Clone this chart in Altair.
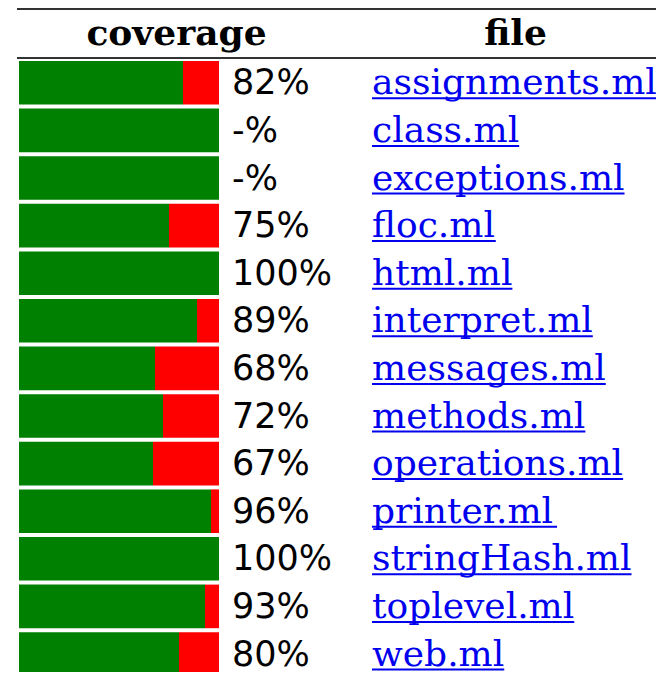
import os
import glob
import struct
import subprocess

import altair as alt
import pandas as pd

# ---------------- data ----------------
files = [
    "assignments.ml", "class.ml", "exceptions.ml", "floc.ml", "html.ml",
    "interpret.ml", "messages.ml", "methods.ml", "operations.ml",
    "printer.ml", "stringHash.ml", "toplevel.ml", "web.ml",
]
coverage = [82, None, None, 75, 100, 89, 68, 72, 67, 96, 100, 93, 80]
headers = ["coverage", "file"]

# ---------------- layout constants (plot pixels) ----------------
SERIF_SIZE = 36
SANS_SIZE = 35
NAME_X = 364
PCT_X = 224
W = 648
H = 664
STEP = 47.6
BAR_TOP = 53


def find_font(family, fname):
    try:
        p = subprocess.run(["fc-match", "-f", "%{file}", family],
                           capture_output=True, text=True, timeout=5).stdout.strip()
        if p.endswith(fname) and os.path.exists(p):
            return p
    except Exception:
        pass
    for pat in ["/usr/share/fonts/**/" + fname, "/usr/local/share/fonts/**/" + fname]:
        hits = glob.glob(pat, recursive=True)
        if hits:
            return hits[0]
    return None


def text_width_fn(path):
    """Return a function measuring string advance width (em) using the TTF hmtx/cmap."""
    try:
        data = open(path, "rb").read()
        ntab = struct.unpack(">H", data[4:6])[0]
        tabs = {}
        for i in range(ntab):
            tag, _, off, _ = struct.unpack(">4sIII", data[12 + 16 * i:28 + 16 * i])
            tabs[tag.decode("latin1")] = off
        upem = struct.unpack(">H", data[tabs["head"] + 18:tabs["head"] + 20])[0]
        nhm = struct.unpack(">H", data[tabs["hhea"] + 34:tabs["hhea"] + 36])[0]
        hmtx = tabs["hmtx"]
        cm = tabs["cmap"]
        nsub = struct.unpack(">H", data[cm + 2:cm + 4])[0]
        sub = None
        for i in range(nsub):
            pid, eid, off = struct.unpack(">HHI", data[cm + 4 + 8 * i:cm + 12 + 8 * i])
            fmt = struct.unpack(">H", data[cm + off:cm + off + 2])[0]
            if fmt == 4 and pid in (0, 3):
                sub = cm + off
                break
        segx2 = struct.unpack(">H", data[sub + 6:sub + 8])[0]
        seg = segx2 // 2
        ends = struct.unpack(">%dH" % seg, data[sub + 14:sub + 14 + segx2])
        so = sub + 16 + segx2
        starts = struct.unpack(">%dH" % seg, data[so:so + segx2])
        do = so + segx2
        deltas = struct.unpack(">%dh" % seg, data[do:do + segx2])
        ro = do + segx2
        ranges = struct.unpack(">%dH" % seg, data[ro:ro + segx2])

        def gid(c):
            for i in range(seg):
                if ends[i] >= c:
                    if starts[i] > c:
                        return 0
                    if ranges[i] == 0:
                        return (c + deltas[i]) & 0xFFFF
                    addr = ro + 2 * i + ranges[i] + 2 * (c - starts[i])
                    g = struct.unpack(">H", data[addr:addr + 2])[0]
                    return (g + deltas[i]) & 0xFFFF if g else 0
            return 0

        def adv(g):
            g = min(g, nhm - 1)
            return struct.unpack(">H", data[hmtx + 4 * g:hmtx + 4 * g + 2])[0]

        return lambda s: sum(adv(gid(ord(ch))) for ch in s) / upem
    except Exception:
        return lambda s: 0.6 * len(s)


serif_path = find_font("DejaVu Serif", "DejaVuSerif.ttf")
measure = text_width_fn(serif_path) if serif_path else (lambda s: 0.6 * len(s))

labels = [f"{c}%" if c is not None else "-%" for c in coverage]
covered = [c if c is not None else 100 for c in coverage]

df = pd.DataFrame({
    "file": files,
    "covered": covered,
    "full": [100] * len(files),
    "label": labels,
    "ul0": [NAME_X] * len(files),
    "ul1": [min(W, NAME_X + measure(f) * SERIF_SIZE) for f in files],
})
df_red = df[[c is not None and c < 100 for c in coverage]]

n = len(files)
ysc = alt.Scale(
    range=[BAR_TOP - 2, BAR_TOP - 2 + n * STEP],
    paddingInner=4 / STEP, paddingOuter=2 / STEP,
)
Y = alt.Y("file:N", sort=files, scale=ysc, axis=None)
xsc = alt.Scale(domain=[0, 100], range=[11, 211])

green = alt.Chart(df).mark_bar(color="#008000").encode(
    x=alt.X("covered:Q", scale=xsc, axis=None), y=Y
)
red = alt.Chart(df_red).mark_bar(color="#ff0000").encode(
    x=alt.X("covered:Q", scale=xsc, axis=None), x2="full:Q", y=Y
)
pct = alt.Chart(df).mark_text(
    align="left", baseline="alphabetic", dy=11.5, font="DejaVu Sans",
    fontSize=SANS_SIZE, color="#000000"
).encode(x=alt.value(PCT_X), y=Y, text="label:N")
names = alt.Chart(df).mark_text(
    align="left", baseline="alphabetic", dy=11.5, font="DejaVu Serif",
    fontSize=SERIF_SIZE, color="#0000ee"
).encode(x=alt.value(NAME_X), y=Y, text="file:N")
underline = alt.Chart(df).mark_rule(color="#0000ee", strokeWidth=2, yOffset=15.5).encode(
    x=alt.X("ul0:Q", scale=None, axis=None), x2="ul1:Q", y=Y
)

one = alt.Data(values=[{}])
rule_top = alt.Chart(one).mark_rule(color="#333333", strokeWidth=2).encode(
    x=alt.value(9), x2=alt.value(W), y=alt.value(1)
)
rule_head = alt.Chart(one).mark_rule(color="#333333", strokeWidth=2).encode(
    x=alt.value(9), x2=alt.value(W), y=alt.value(50)
)
head1 = alt.Chart(one).mark_text(
    font="DejaVu Serif", fontWeight="bold", fontSize=SERIF_SIZE, align="center",
    baseline="alphabetic", color="#000000"
).encode(x=alt.value(168.5), y=alt.value(37), text=alt.value(headers[0]))
head2 = alt.Chart(one).mark_text(
    font="DejaVu Serif", fontWeight="bold", fontSize=SERIF_SIZE, align="center",
    baseline="alphabetic", color="#000000"
).encode(x=alt.value(507.5), y=alt.value(37), text=alt.value(headers[1]))

chart = alt.layer(
    green, red, pct, names, underline, rule_top, rule_head, head1, head2
).resolve_scale(x="independent").properties(
    width=W, height=H, padding=0, autosize=alt.AutoSizeParams(type="none")
).configure_view(stroke=None)

chart.save("out.html", embed_options={"renderer": "svg", "actions": False})
